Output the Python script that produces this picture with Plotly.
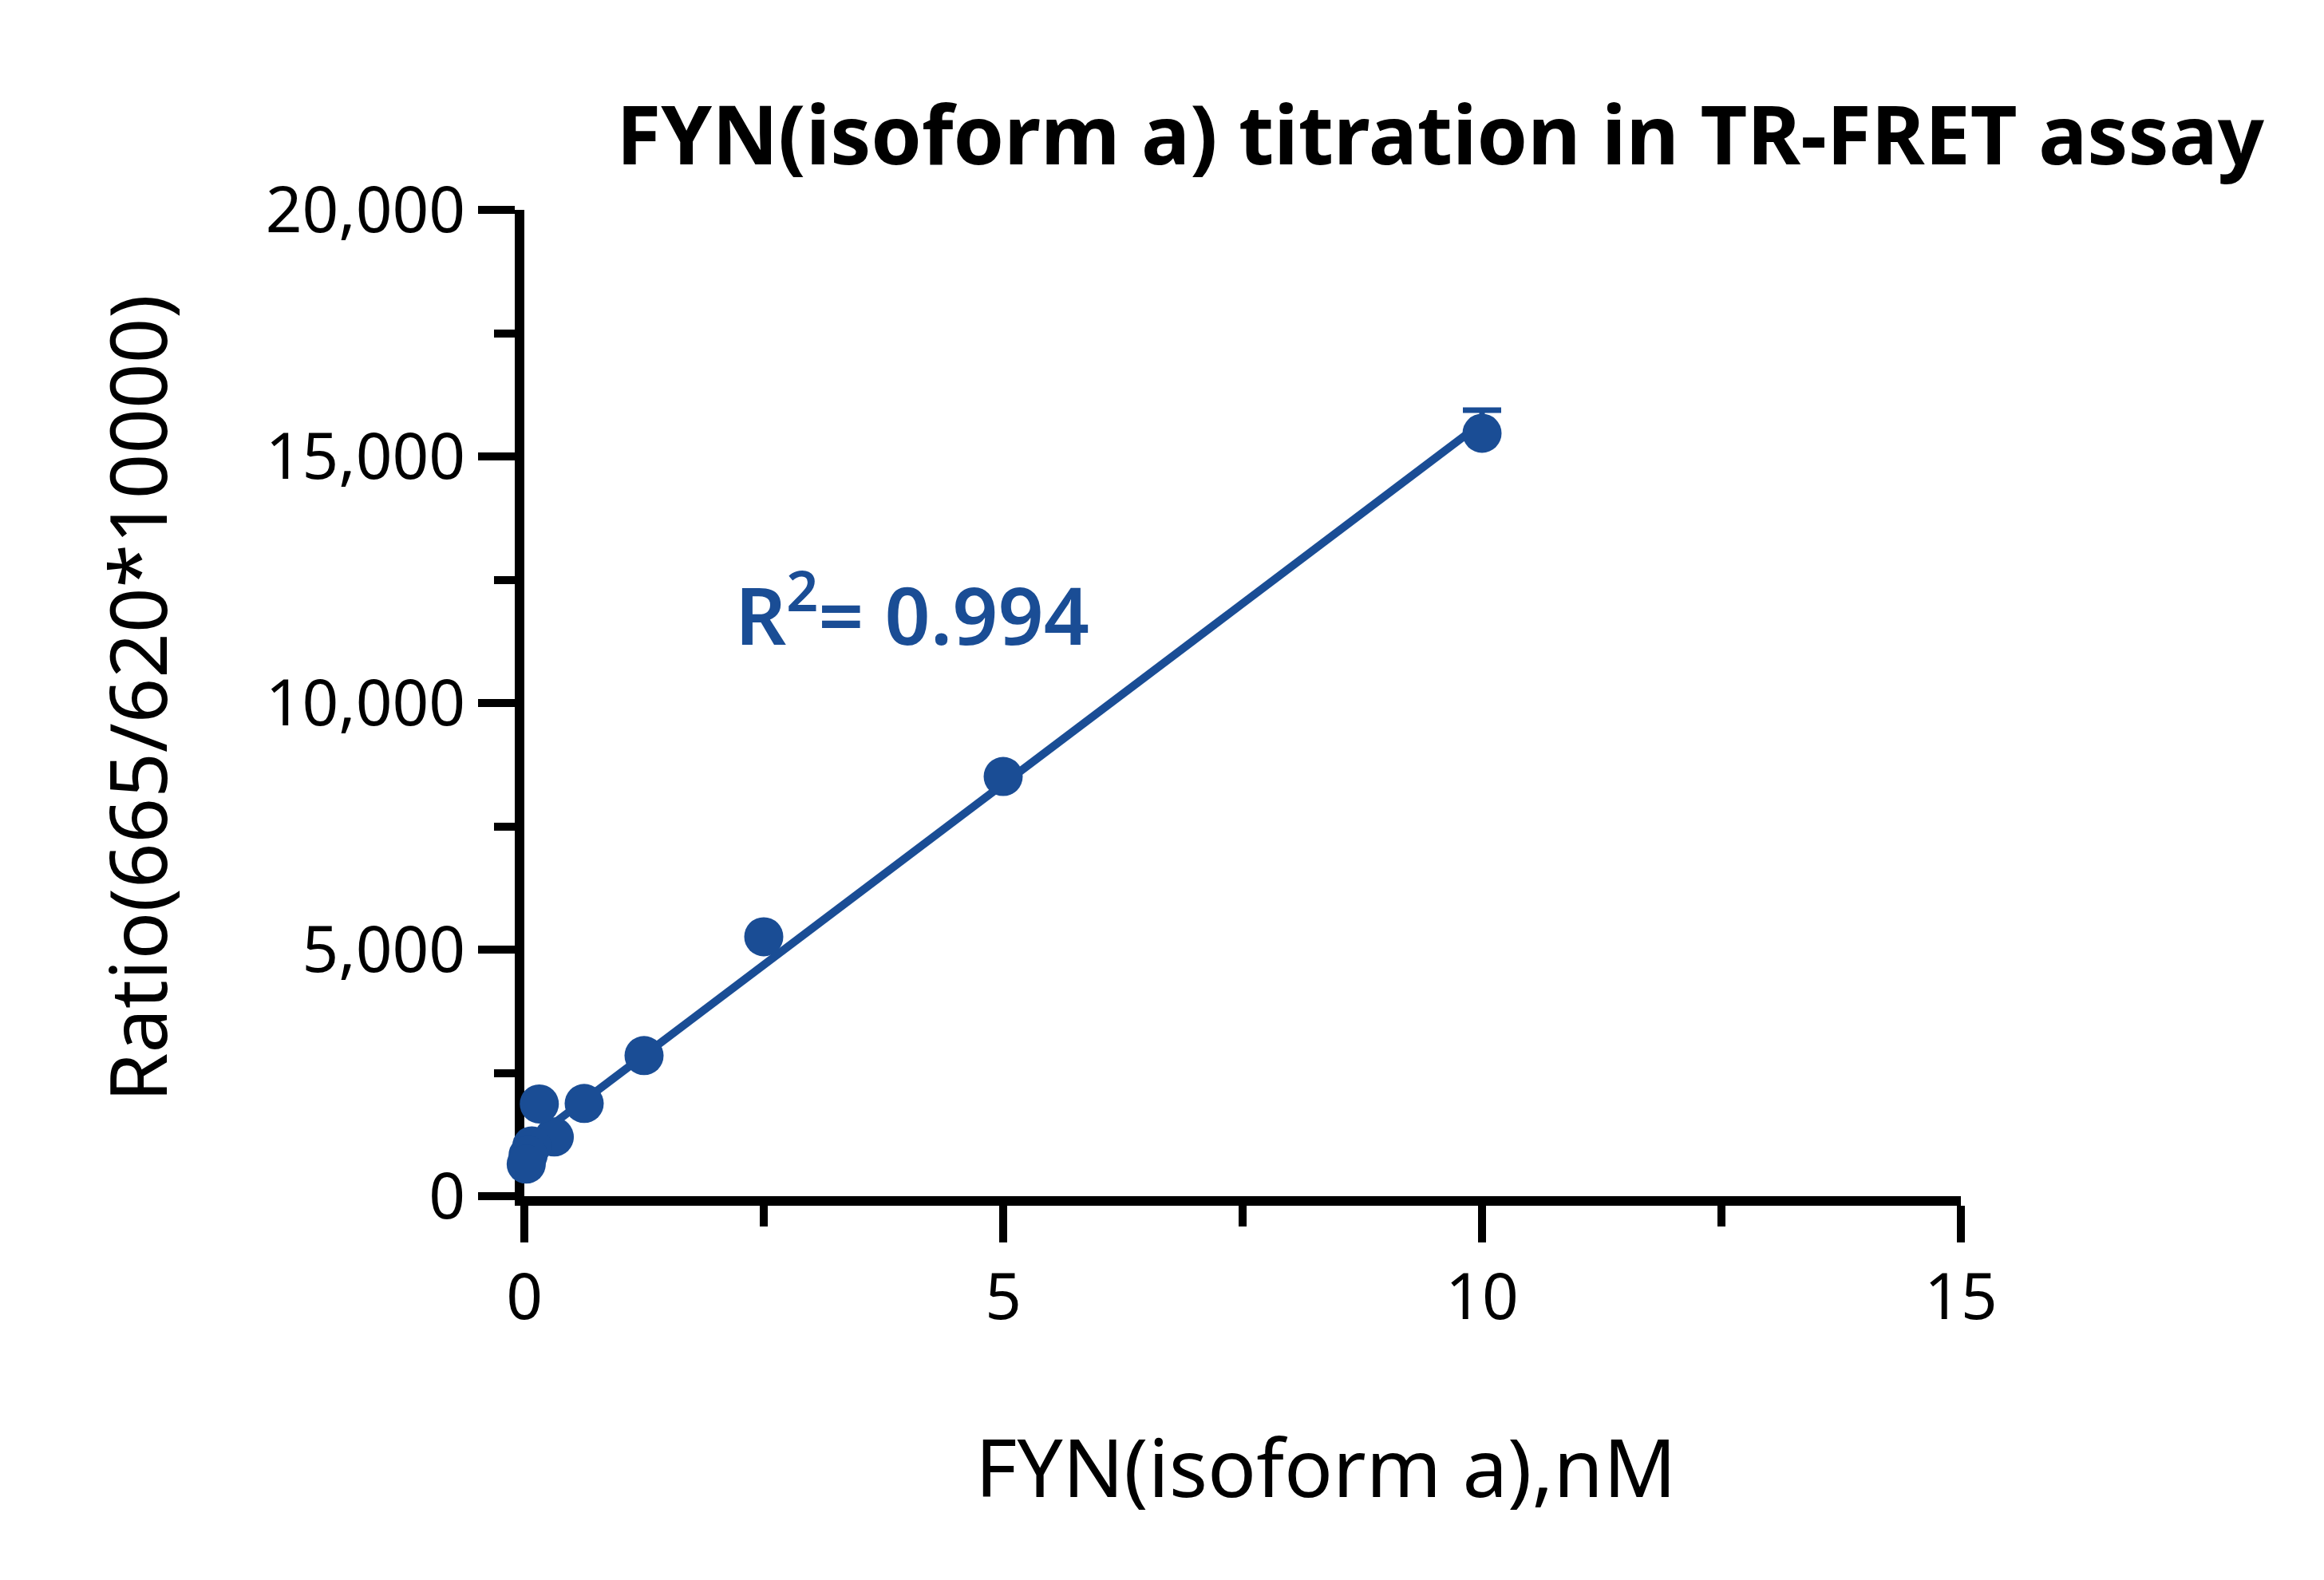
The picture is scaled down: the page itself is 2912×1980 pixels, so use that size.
import numpy as np
import plotly.graph_objects as go

# Data
conc_nM = [10, 5, 2.5, 1.25, 0.625, 0.3125, 0.15625, 0.078125, 0.0390625, 0.01953125]
ratio = [15470, 8510, 5260, 2850, 1880, 1200, 1870, 1020, 830, 650]
ratio_sd_up = [470, 0, 0, 0, 0, 0, 0, 0, 0, 0]

x_ticks = [0, 5, 10, 15]
y_ticks = [0, 5000, 10000, 15000, 20000]
y_tick_labels = ["0", "5,000", "10,000", "15,000", "20,000"]

title_text = "<b>FYN(isoform a) titration in TR-FRET assay</b>"
x_title = "FYN(isoform a),nM"
y_title = "Ratio(665/620*10000)"
r2_text = "R<sup>2</sup>= 0.994"

BLUE = "#1a4d95"
FONT = "Noto Sans"

# Linear fit computed from the data
slope, intercept = np.polyfit(conc_nM, ratio, 1)
fit_x = np.array([min(conc_nM), max(conc_nM)])
fit_y = slope * fit_x + intercept

fig = go.Figure()
fig.add_trace(go.Scatter(
    x=fit_x, y=fit_y, mode="lines",
    line=dict(color=BLUE, width=10),
    hoverinfo="skip", showlegend=False, cliponaxis=False,
))
fig.add_trace(go.Scatter(
    x=conc_nM, y=ratio, mode="markers",
    marker=dict(color=BLUE, size=49, line=dict(width=0)),
    error_y=dict(type="data", symmetric=False, array=ratio_sd_up,
                 arrayminus=[0] * len(ratio), color=BLUE, thickness=7, width=24),
    showlegend=False, cliponaxis=False,
))

fig.add_annotation(
    x=2.18, y=11900, xref="x", yref="y", text=r2_text, showarrow=False,
    xanchor="left", yanchor="middle",
    font=dict(family=FONT, size=100, color=BLUE, weight=600),
)
fig.add_annotation(
    x=1653 / 2912, y=1 - 1829 / 1980, xref="paper", yref="paper",
    text=x_title, showarrow=False, xanchor="center", yanchor="middle",
    font=dict(family=FONT, size=101, color="black"),
)
fig.add_annotation(
    x=162 / 2912, y=1 - 867 / 1980, xref="paper", yref="paper",
    text=y_title, showarrow=False, xanchor="center", yanchor="middle",
    textangle=-90,
    font=dict(family=FONT, size=99, color="black"),
)

axis_common = dict(
    showline=True, linecolor="black", linewidth=12,
    ticks="outside", tickcolor="black", tickwidth=10, ticklen=46,
    showgrid=False, zeroline=False, layer="below traces",
    tickfont=dict(family=FONT, size=80, color="black"),
)

fig.update_xaxes(
    range=[0, 15], tickvals=x_ticks, ticktext=[str(t) for t in x_ticks],
    minor=dict(ticks="outside", tickvals=[2.5, 7.5, 12.5], ticklen=26,
               tickwidth=10, tickcolor="black"),
    **axis_common,
)
fig.update_yaxes(
    range=[0, 20000], tickvals=y_ticks, ticktext=y_tick_labels,
    minor=dict(ticks="outside", tickvals=[2500, 7500, 12500, 17500], ticklen=26,
               tickwidth=10, tickcolor="black"),
    **axis_common,
)

L, R, T, B = 649, 463, 255, 489
fig.update_layout(
    width=2912, height=1980,
    paper_bgcolor="white", plot_bgcolor="white",
    margin=dict(l=L, r=R, t=T, b=B, autoexpand=False),
    title=dict(text=title_text, x=0.617, xref="container", xanchor="center",
               y=0.918, yref="container", yanchor="middle",
               font=dict(family=FONT, size=102, color="black")),
    font=dict(family=FONT),
)
# annotations placed in paper coords relative to the full canvas
for ann in fig.layout.annotations[1:]:
    px_x = ann.x * 2912
    px_y = (1 - ann.y) * 1980
    ann.x = (px_x - L) / (2912 - L - R)
    ann.y = (1980 - B - px_y) / (1980 - T - B)

fig.write_html("out.html")
